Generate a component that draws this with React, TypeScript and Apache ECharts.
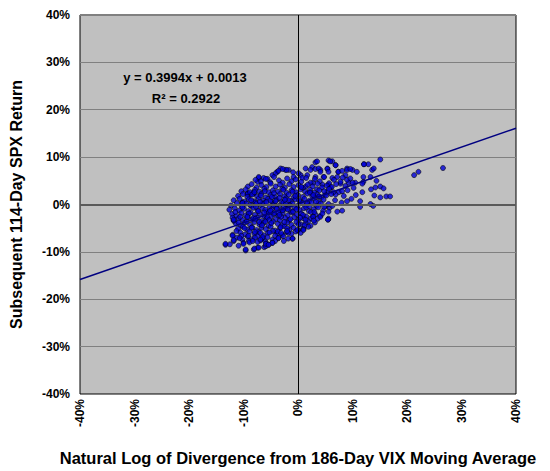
import React, { useEffect, useRef } from "react";
import * as echarts from "echarts";

// Tick labels / axis ranges (values in fraction units)
const xTicks = [-0.4, -0.3, -0.2, -0.1, 0, 0.1, 0.2, 0.3, 0.4];
const yTicks = [-0.4, -0.3, -0.2, -0.1, 0, 0.1, 0.2, 0.3, 0.4];

// Regression coefficients
const slope = 0.3994;
const intercept = 0.0013;
const equationText = "y = 0.3994x + 0.0013";
const r2Text = "R² = 0.2922";

const xAxisTitle = "Natural Log of Divergence from 186-Day VIX Moving Average";
const yAxisTitle = "Subsequent 114-Day SPX Return";

// Scatter points, in percent [x%, y%]
const pointsUpper: number[][] = [
  [-3.8, 6.9], [-3.2, 7.6], [-2.3, 7.3], [-1.7, 7.3], [-4.7, 6.2], [-7.2, 5.6], [-6.3, 5.6], [-0.9, 6.8], [0.5, 6.2], [1.4, 7.6],
  [2.6, 7.9], [3.2, 8.9], [3.5, 9.1], [5.6, 9.3], [6.3, 9.1], [6.9, 8.3], [5.4, 7.6], [4.1, 7.3], [7.4, 6.9], [9.0, 7.6],
  [10.0, 7.3], [10.8, 6.9], [12.1, 8.5], [12.9, 8.5], [15.1, 9.5], [13.6, 7.3], [13.9, 7.6], [13.3, 5.8], [12.0, 4.8], [10.5, 4.6],
  [9.3, 4.6], [7.8, 4.4], [7.5, 2.6], [11.8, 2.6], [13.4, 3.2], [14.2, 3.6], [15.1, 3.8], [15.7, 3.4], [14.0, 1.9], [15.1, 1.5],
  [16.2, 1.7], [16.9, 1.7], [9.0, 0.7], [11.4, 0.7], [11.4, -0.5], [13.3, 0.1], [13.8, -0.3], [21.3, 6.2], [22.1, 6.9], [26.6, 7.7],
  [5.9, 9.1], [6.9, 8.3], [-2.1, 7.3], [2.3, 7.3], [3.2, 7.5], [3.8, 7.6], [4.1, 6.9], [5.4, 7.5], [5.6, 6.9], [7.4, 6.9],
  [8.1, 7.1], [9.0, 7.3], [9.6, 7.5], [8.7, 6.2], [7.2, 5.8], [6.3, 5.6], [4.7, 5.8], [3.2, 5.8], [1.7, 6.2], [0.8, 5.6],
  [0.1, 6.6], [-0.8, 5.8], [7.8, 4.8], [9.0, 5.2], [10.0, 4.6], [5.6, 4.2], [4.5, 4.2], [2.8, 4.6], [1.4, 3.8], [3.5, 3.2],
  [6.0, 3.6], [5.4, 2.8], [6.9, 2.1], [8.1, 2.8], [5.0, 2.1], [3.8, 1.7], [2.3, 2.6], [12.1, 8.5], [11.8, 4.4], [14.4, 5.0],
  [-7.4, 4.8], [-7.2, 5.8], [-5.6, 5.4], [-4.1, 6.6], [-3.6, 7.1], [-2.8, 7.5], [-9.2, 2.4], [-10.2, 0.5], [-8.7, 2.1], [-8.1, 2.6],
  [-9.3, 2.2], [-8.1, 2.3], [-10.2, 0.3],
];

const pointsCore: number[][] = [
  [-7.8, 5.2], [-6.8, 4.9], [-5.9, 5.4], [-5.1, 4.7], [-4.4, 5.8], [-3.5, 5.1], [-2.8, 4.6], [-2.0, 5.5], [-1.2, 4.9], [-0.4, 5.3],
  [0.6, 4.8], [1.5, 5.6], [2.3, 4.6], [3.1, 5.4], [4.0, 4.9], [4.8, 5.8], [5.7, 4.5], [6.6, 5.2], [8.2, 5.7], [9.6, 5.5],
  [-9.2, 3.8], [-8.5, 4.3], [-7.6, 3.6], [-6.7, 4.1], [-5.8, 3.7], [-5.0, 4.4], [-4.1, 3.8], [-3.3, 4.2], [-2.4, 3.6], [-1.6, 4.3],
  [-0.8, 3.7], [0.1, 4.1], [0.9, 3.5], [1.8, 4.2], [2.7, 3.8], [3.6, 4.4], [4.4, 3.6], [5.3, 4.0], [6.2, 3.7], [7.0, 4.3],
  [8.7, 3.9], [10.2, 3.5],
  [-10.4, 2.8], [-9.6, 3.2], [-8.8, 2.6], [-7.9, 3.1], [-7.1, 2.7], [-6.2, 3.3], [-5.4, 2.6], [-4.6, 3.0], [-3.7, 2.7], [-2.9, 3.3],
  [-2.1, 2.5], [-1.2, 3.0], [-0.4, 2.6], [0.5, 3.2], [1.3, 2.7], [2.2, 3.1], [3.0, 2.5], [3.9, 3.0], [4.8, 2.8], [5.7, 3.3],
  [6.5, 2.6], [9.1, 3.0],
  [-11.0, 1.8], [-10.1, 2.2], [-9.3, 1.6], [-8.4, 2.1], [-7.5, 1.7], [-6.7, 2.3], [-5.9, 1.5], [-5.0, 2.0], [-4.2, 1.6], [-3.3, 2.2],
  [-2.5, 1.7], [-1.7, 2.1], [-0.8, 1.5], [0.0, 2.0], [0.9, 1.6], [1.7, 2.3], [2.6, 1.8], [3.5, 2.1], [4.3, 1.5], [5.2, 1.9],
  [6.1, 2.2], [8.4, 1.8], [10.6, 2.0],
  [-11.8, 0.9], [-10.7, 1.2], [-9.8, 0.6], [-9.0, 1.1], [-8.1, 0.7], [-7.2, 1.3], [-6.4, 0.8], [-5.5, 1.2], [-4.7, 0.5], [-3.9, 1.0],
  [-3.0, 0.6], [-2.2, 1.3], [-1.3, 0.7], [-0.5, 1.1], [0.4, 0.6], [1.2, 1.2], [2.1, 0.8], [3.0, 1.3], [3.8, 0.5], [4.7, 1.0],
  [6.8, 0.9],
  [-12.3, -0.2], [-11.2, 0.3], [-10.3, -0.4], [-9.5, 0.2], [-8.6, -0.3], [-7.8, 0.4], [-6.9, -0.1], [-6.1, 0.3], [-5.2, -0.5], [-4.4, 0.1],
  [-3.5, -0.3], [-2.7, 0.4], [-1.8, -0.2], [-1.0, 0.2], [-0.1, -0.4], [0.8, 0.3], [1.6, -0.1], [2.5, 0.4], [3.4, -0.3], [4.2, 0.2],
  [5.1, -0.4],
  [-12.6, -1.1], [-11.6, -0.8], [-10.8, -1.3], [-9.9, -0.9], [-9.1, -1.4], [-8.2, -0.7], [-7.4, -1.2], [-6.5, -0.8], [-5.7, -1.5], [-4.8, -1.0],
  [-4.0, -0.6], [-3.1, -1.3], [-2.3, -0.9], [-1.4, -1.4], [-0.6, -0.7], [0.3, -1.2], [1.1, -0.8], [2.0, -1.4], [2.9, -1.0], [3.7, -0.6],
  [4.6, -1.3],
  [-12.1, -2.0], [-11.3, -2.4], [-10.4, -1.8], [-9.6, -2.3], [-8.7, -1.7], [-7.9, -2.2], [-7.0, -1.9], [-6.2, -2.5], [-5.3, -1.6], [-4.5, -2.1],
  [-3.6, -2.4], [-2.8, -1.8], [-1.9, -2.3], [-1.1, -1.7], [-0.2, -2.2], [0.6, -1.9], [1.5, -2.5], [2.4, -1.6], [3.2, -2.1], [4.1, -2.4],
  [-11.8, -3.4], [-10.9, -2.9], [-10.1, -3.3], [-9.2, -2.7], [-8.4, -3.2], [-7.5, -2.8], [-6.7, -3.5], [-5.8, -3.0], [-5.0, -2.6], [-4.1, -3.1],
  [-3.3, -3.4], [-2.4, -2.8], [-1.6, -3.3], [-0.7, -2.7], [0.1, -3.2], [1.0, -2.9], [1.9, -3.5], [2.7, -2.6], [3.6, -3.0], [5.5, -3.2],
  [-11.4, -4.0], [-10.5, -4.4], [-9.7, -3.8], [-8.8, -4.3], [-8.0, -3.7], [-7.1, -4.2], [-6.3, -3.9], [-5.4, -4.5], [-4.6, -3.6], [-3.7, -4.1],
  [-2.9, -4.4], [-2.0, -3.8], [-1.2, -4.3], [-0.3, -3.7], [0.5, -4.2], [1.4, -3.9], [2.3, -4.5], [3.1, -3.8],
  [-11.0, -5.1], [-10.1, -4.7], [-9.3, -5.3], [-8.4, -4.8], [-7.6, -5.4], [-6.7, -4.9], [-5.9, -5.2], [-5.0, -4.7], [-4.2, -5.5], [-3.3, -5.0],
  [-2.5, -4.6], [-1.6, -5.3], [-0.8, -4.9], [0.1, -5.4], [1.0, -5.1], [1.9, -4.7],
  [-12.0, -6.4], [-10.6, -5.9], [-9.7, -6.3], [-8.9, -5.7], [-8.0, -6.2], [-7.2, -5.8], [-6.3, -6.5], [-5.5, -6.0], [-4.6, -5.6], [-3.8, -6.1],
  [-2.9, -6.4], [-2.1, -5.8], [-1.2, -6.2], [-0.4, -5.7], [0.5, -6.0],
  [-11.2, -7.0], [-10.2, -7.4], [-9.2, -6.8], [-8.3, -7.3], [-7.4, -6.7], [-6.5, -7.2], [-5.6, -6.9], [-4.7, -7.4], [-3.6, -7.1], [-2.7, -6.7],
  [-1.8, -7.2], [-1.0, -7.2],
];

const pointsDense: number[][] = [
  [-8.6, 0.9], [-7.7, -0.5], [-6.8, 1.9], [-6.0, -1.1], [-5.1, 0.8], [-4.3, -1.8], [-3.4, 1.4], [-2.6, -0.6], [-1.7, 0.9], [-0.9, -1.5],
  [-8.2, -2.9], [-7.3, -1.4], [-6.5, 0.2], [-5.6, -2.7], [-4.8, 1.6], [-3.9, -0.9], [-3.1, -2.6], [-2.2, 0.1], [-1.4, -3.1], [-0.5, 1.8],
  [-9.0, -1.9], [-8.0, 2.6], [-7.1, -3.7], [-6.1, 2.8], [-5.3, -3.3], [-4.4, 2.4], [-3.6, -1.7], [-2.7, 3.1], [-1.9, -1.0], [-1.0, 2.7],
  [-9.4, -3.6], [-8.5, -4.9], [-7.6, 0.2], [-6.6, -4.4], [-5.8, 0.5], [-4.9, -3.9], [-4.1, 0.7], [-3.2, -4.8], [-2.4, 1.0], [-1.5, -0.2],
  [-10.2, -0.6], [-9.3, -2.6], [-7.9, -5.8], [-7.0, 0.6], [-6.2, -1.7], [-5.2, -5.9], [-4.5, -0.2], [-3.7, -5.7], [-2.8, -1.2], [-2.0, -5.0],
  [-10.6, -2.6], [-9.8, -5.0], [-8.8, -0.1], [-7.8, -3.0], [-6.9, -6.0], [-6.0, -3.6], [-5.1, -1.3], [-4.2, -6.6], [-3.4, -2.2], [-2.5, -3.7],
  [0.2, 0.9], [0.9, -2.2], [1.7, 0.2], [2.4, -2.9], [3.3, 0.6], [0.6, 3.7], [1.5, -0.6], [2.2, 2.5], [3.0, -1.6], [3.9, 1.7],
  [-0.3, -1.0], [0.4, -2.8], [1.2, -4.4], [2.1, -0.4], [2.8, 2.0], [-11.5, -1.6], [-12.0, -2.8], [-10.9, -3.8], [-11.3, -5.6], [-10.4, -6.6],
  [-9.0, -7.7], [-7.9, -7.0], [-6.0, -7.8], [-4.2, -7.7], [-3.1, -6.0],
];

const pointsLower: number[][] = [
  [-13.3, -8.5], [-12.5, -8.4], [-11.8, -7.7], [-10.0, -8.1], [-8.9, -8.0], [-6.9, -7.6], [-5.8, -8.2], [-5.4, -8.5], [-4.7, -8.1], [-2.6, -7.7],
  [-9.6, -9.7], [-8.1, -9.5], [-7.4, -9.1], [-6.2, -9.0], [-5.9, -8.8],
  [-12.0, -6.6], [-11.8, -3.4], [-10.2, 0.3], [-13.3, -8.3], [-11.8, -7.5], [-10.7, -7.1], [-10.9, -8.7], [-10.0, -8.3], [-9.6, -9.5], [-9.1, -6.6],
  [-8.3, -7.7], [-7.4, -7.9], [-8.0, -9.3], [-7.2, -9.1], [-5.9, -8.3], [-4.7, -8.1], [-6.5, -6.9], [-11.8, -3.2],
  [4.8, -0.5], [5.8, -0.7], [7.2, -1.5], [8.1, -1.3], [5.6, -3.0], [4.1, -2.6], [2.8, -2.6], [1.4, -3.2], [1.0, -5.2], [-1.0, -7.2],
  [-1.8, -6.0], [-2.0, -5.6], [0.1, -4.2], [5.6, 0.1], [6.3, -0.3], [5.6, -1.5], [5.5, -3.2], [4.5, -1.9], [2.9, -3.4], [1.0, -5.4],
  [-0.1, -5.4], [-3.6, -7.1], [-5.4, -8.5], [-6.9, -7.4], [12.0, 5.8], [9.8, 1.2], [8.0, 0.4],
];

const allPoints = [...pointsUpper, ...pointsCore, ...pointsDense, ...pointsLower].map(
  (p) => [p[0] / 100, p[1] / 100]
);

const xMin = xTicks[0];
const xMax = xTicks[xTicks.length - 1];
const lineData = [
  [xMin, slope * xMin + intercept],
  [xMax, slope * xMax + intercept],
];

const pct = (v: number) => `${Math.round(v * 100)}%`;
const FONT = "Arial, 'Liberation Sans', Helvetica, sans-serif";

export default function App() {
  const ref = useRef<HTMLDivElement>(null);

  useEffect(() => {
    document.body.style.margin = "0";
    if (!ref.current) return;
    const chart = echarts.init(ref.current, null, { renderer: "svg" });
    chart.setOption({
      animation: false,
      backgroundColor: "#ffffff",
      textStyle: { fontFamily: FONT },
      grid: {
        left: 79,
        right: 34,
        top: 15,
        bottom: 65,
        show: true,
        backgroundColor: "#C0C0C0",
        borderColor: "#000000",
        borderWidth: 1,
      },
      xAxis: {
        type: "value",
        min: xMin,
        max: xMax,
        interval: 0.1,
        name: xAxisTitle,
        nameLocation: "middle",
        nameGap: 55,
        nameTextStyle: { fontFamily: FONT, fontSize: 16.5, fontWeight: "bold", color: "#000" },
        axisLine: { show: false },
        axisTick: { show: false },
        splitLine: { show: false },
        axisLabel: {
          rotate: 90,
          margin: 5,
          formatter: pct,
          fontFamily: FONT,
          fontSize: 12,
          fontWeight: "bold",
          color: "#000",
        },
      },
      yAxis: {
        type: "value",
        min: yTicks[0],
        max: yTicks[yTicks.length - 1],
        interval: 0.1,
        name: yAxisTitle,
        nameLocation: "middle",
        nameGap: 56,
        nameTextStyle: { fontFamily: FONT, fontSize: 16, fontWeight: "bold", color: "#000" },
        axisLine: { show: false },
        axisTick: { show: false },
        splitLine: { show: true, lineStyle: { color: "#808080", width: 1 } },
        axisLabel: {
          margin: 10,
          formatter: pct,
          fontFamily: FONT,
          fontSize: 12,
          fontWeight: "bold",
          color: "#000",
        },
      },
      graphic: [
        {
          type: "text",
          x: 185,
          y: 77,
          style: {
            text: equationText,
            font: `bold 13px ${FONT}`,
            fill: "#000",
            align: "center",
            verticalAlign: "middle",
          },
        },
        {
          type: "text",
          x: 186,
          y: 98,
          style: {
            text: r2Text,
            font: `bold 13px ${FONT}`,
            fill: "#000",
            align: "center",
            verticalAlign: "middle",
          },
        },
      ],
      series: [
        {
          type: "line",
          data: [],
          silent: true,
          markLine: {
            silent: true,
            symbol: "none",
            label: { show: false },
            data: [
              { yAxis: 0, lineStyle: { color: "#5a5a5a", width: 2, type: "solid" } },
              { xAxis: 0, lineStyle: { color: "#000000", width: 1, type: "solid" } },
            ],
          },
        },
        {
          type: "scatter",
          data: allPoints,
          symbol: "circle",
          symbolSize: 5,
          itemStyle: { color: "#0000D8", borderColor: "#000000", borderWidth: 0.7 },
          z: 3,
        },
        {
          type: "line",
          data: lineData,
          showSymbol: false,
          symbol: "none",
          lineStyle: { color: "#000080", width: 1.5 },
          z: 4,
        },
      ],
    });
    return () => chart.dispose();
  }, []);

  return <div ref={ref} style={{ width: 550, height: 471 }} />;
}
